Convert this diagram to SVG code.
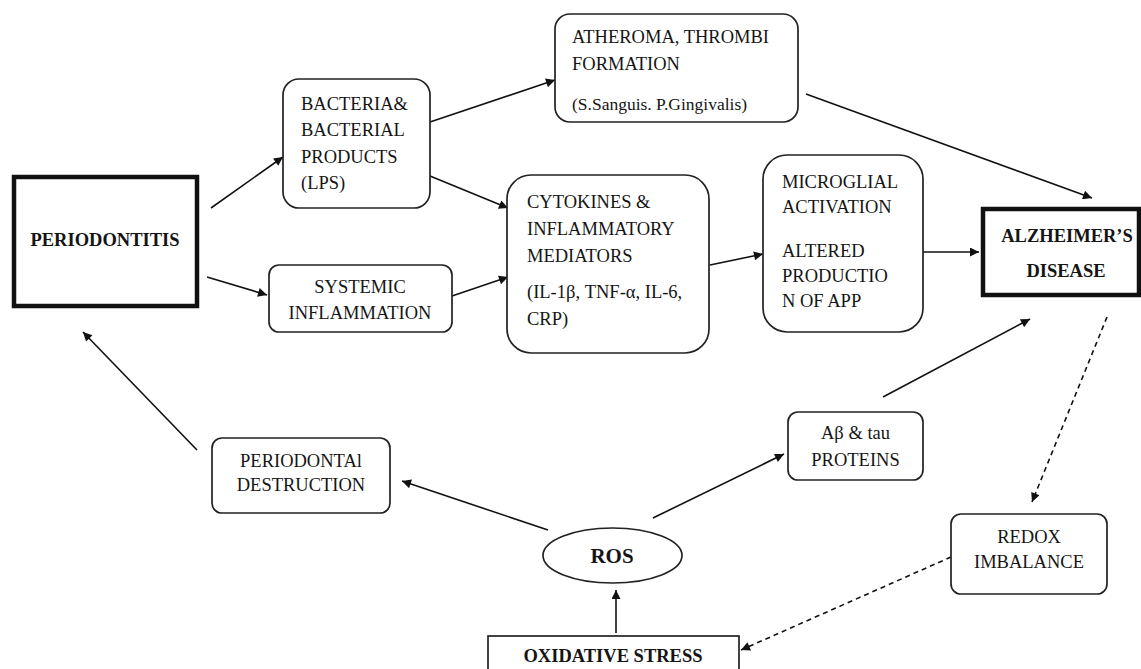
<svg xmlns="http://www.w3.org/2000/svg" width="1141" height="669" viewBox="0 0 1141 669">
<defs>
<marker id="ah" viewBox="0 0 10 10" refX="10" refY="5" markerWidth="12" markerHeight="9" markerUnits="userSpaceOnUse" orient="auto">
<path d="M0,0 L10,5 L0,10 z" fill="#111"/>
</marker>
<style>
.bx{fill:#fff;stroke:#222;stroke-width:1.7}
.tk{fill:#fff;stroke:#111;stroke-width:4.5}
.t{font-family:'Liberation Serif','DejaVu Serif',serif;font-size:18.5px;fill:#151515}
.b{font-weight:bold}
.m{text-anchor:middle}
.c{stroke:#111;stroke-width:1.6;fill:none;marker-end:url(#ah)}
.d{stroke-dasharray:5,4}
</style>
</defs>
<rect width="1141" height="669" fill="#fff"/>
<g id="connectors">
<line class="c" x1="211" y1="208" x2="283" y2="157"/>
<line class="c" x1="207" y1="277" x2="267" y2="295"/>
<line class="c" x1="430" y1="122" x2="555" y2="80"/>
<line class="c" x1="430" y1="176" x2="508" y2="208"/>
<line class="c" x1="452" y1="296" x2="508" y2="277"/>
<line class="c" x1="710" y1="265" x2="763" y2="254"/>
<line class="c" x1="923" y1="252" x2="979" y2="252"/>
<line class="c" x1="806" y1="94" x2="1092" y2="198"/>
<line class="c" x1="883" y1="397" x2="1030" y2="319"/>
<line class="c d" x1="1107" y1="317" x2="1032" y2="502"/>
<line class="c d" x1="951" y1="557" x2="741" y2="650"/>
<line class="c" x1="616" y1="633" x2="616" y2="590"/>
<line class="c" x1="548" y1="530" x2="402" y2="481"/>
<line class="c" x1="653" y1="518" x2="784" y2="454"/>
<line class="c" x1="197" y1="450" x2="83" y2="332"/>
</g>
<g id="periodontitis">
<rect class="tk" x="14" y="177" width="183" height="129"/>
<text class="t b m" x="105" y="246">PERIODONTITIS</text>
</g>
<g id="bacteria">
<rect class="bx" x="283" y="79" width="147" height="129" rx="16"/>
<text class="t" x="301" y="110">BACTERIA&amp;</text>
<text class="t" x="301" y="136">BACTERIAL</text>
<text class="t" x="301" y="163">PRODUCTS</text>
<text class="t" x="301" y="189">(LPS)</text>
</g>
<g id="atheroma">
<rect class="bx" x="555" y="14" width="243" height="108" rx="15"/>
<text class="t" x="572" y="43">ATHEROMA, THROMBI</text>
<text class="t" x="572" y="70">FORMATION</text>
<text class="t" x="572" y="110" style="font-size:17.5px">(S.Sanguis. P.Gingivalis)</text>
</g>
<g id="systemic">
<rect class="bx" x="269" y="265" width="183" height="67" rx="10"/>
<text class="t m" x="360" y="293">SYSTEMIC</text>
<text class="t m" x="360" y="319">INFLAMMATION</text>
</g>
<g id="cytokines">
<rect class="bx" x="507" y="175" width="202" height="178" rx="24"/>
<text class="t" x="527" y="208">CYTOKINES &amp;</text>
<text class="t" x="527" y="235">INFLAMMATORY</text>
<text class="t" x="527" y="262">MEDIATORS</text>
<text class="t" x="527" y="298">(IL-1β, TNF-α, IL-6,</text>
<text class="t" x="527" y="325">CRP)</text>
</g>
<g id="microglial">
<rect class="bx" x="763" y="155" width="160" height="177" rx="24"/>
<text class="t" x="782" y="188">MICROGLIAL</text>
<text class="t" x="782" y="213">ACTIVATION</text>
<text class="t" x="782" y="257">ALTERED</text>
<text class="t" x="782" y="282">PRODUCTIO</text>
<text class="t" x="782" y="307">N OF APP</text>
</g>
<g id="alzheimers">
<rect class="tk" x="983" y="209" width="156" height="86"/>
<text class="t b m" x="1067" y="242">ALZHEIMER’S</text>
<text class="t b m" x="1066" y="277">DISEASE</text>
</g>
<g id="periodontal">
<rect class="bx" x="212" y="438" width="178" height="75" rx="10"/>
<text class="t m" x="301" y="467">PERIODONTAl</text>
<text class="t m" x="301" y="491">DESTRUCTION</text>
</g>
<g id="ros">
<ellipse class="bx" cx="612.5" cy="555.5" rx="69.5" ry="27.5"/>
<text class="t b m" x="612" y="563" style="font-size:21px">ROS</text>
</g>
<g id="abeta">
<rect class="bx" x="788" y="412" width="135" height="68" rx="10"/>
<text class="t m" x="855.5" y="439">Aβ &amp; tau</text>
<text class="t m" x="855.5" y="466">PROTEINS</text>
</g>
<g id="redox">
<rect class="bx" x="951" y="514" width="156" height="80" rx="10"/>
<text class="t m" x="1029" y="543">REDOX</text>
<text class="t m" x="1029" y="568">IMBALANCE</text>
</g>
<g id="oxidative">
<rect class="bx" x="488" y="636" width="251" height="45"/>
<text class="t b m" x="613" y="662">OXIDATIVE STRESS</text>
</g>
</svg>
